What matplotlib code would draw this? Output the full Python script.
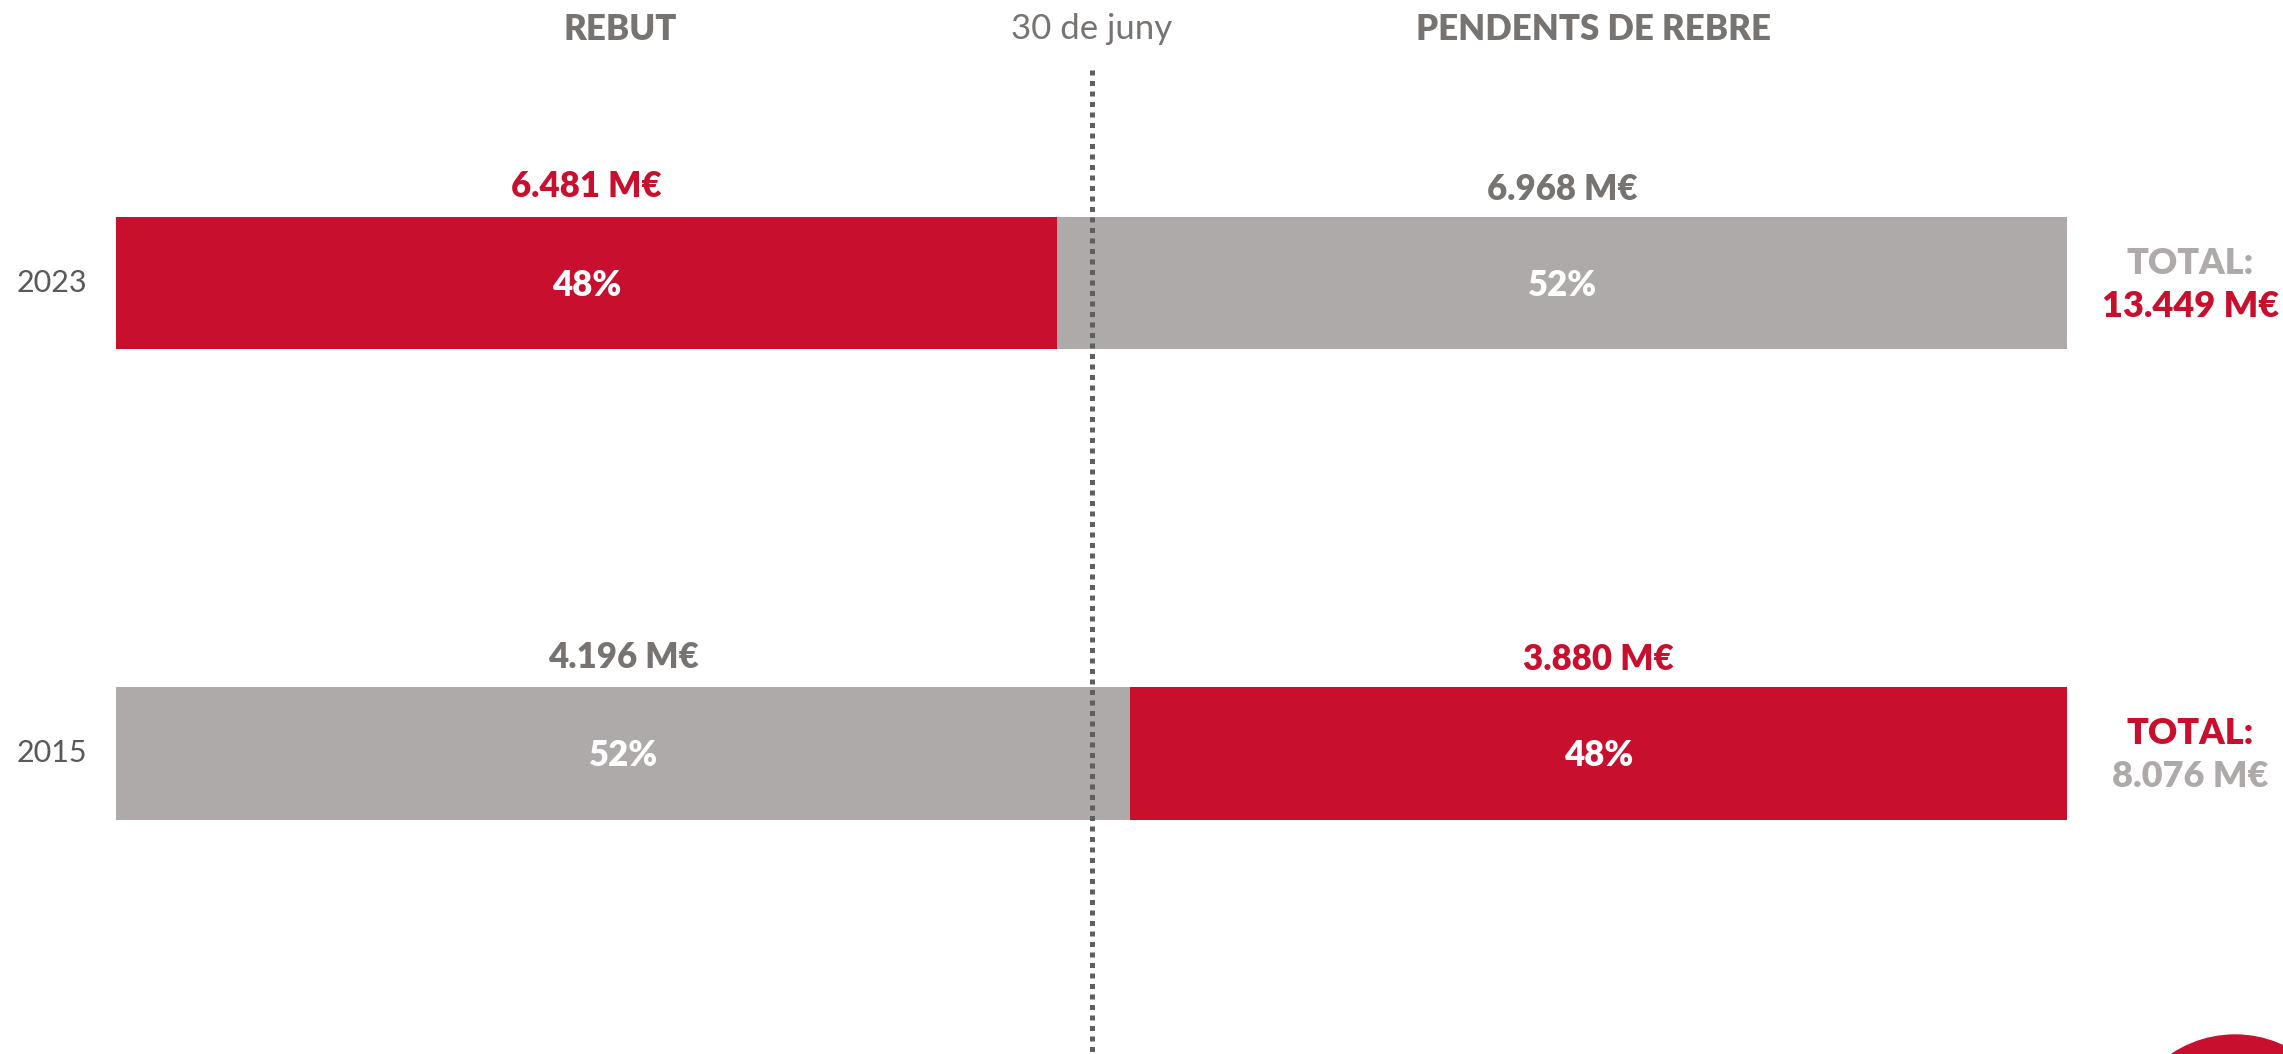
import matplotlib
matplotlib.use("Agg")
import matplotlib.pyplot as plt
from matplotlib.patches import Ellipse

# ========== DATA ==========
years = ["2023", "2015"]
rebut = [6481, 4196]          # M€ rebut a 30 de juny
pendent = [6968, 3880]        # M€ pendents de rebre
col_rebut = ["#C8102E", "#ADAAA9"]
col_pendent = ["#ADAAA9", "#C8102E"]
header_left = "REBUT"
header_mid = "30 de juny"
header_right = "PENDENTS DE REBRE"

RED = "#C8102E"
LGRAY = "#ADAAA9"
DGRAY = "#767371"
FONT = ["Lato", "DejaVu Sans"]


def fmt(v):
    return f"{v:,}".replace(",", ".") + " M€"


fig = plt.figure(figsize=(22.83, 10.54), dpi=100)
ax = fig.add_axes([0.051, 0.0, 0.8546, 1.0])
ax.set_xlim(0, 100)
ax.set_ylim(1.639, -0.602)
ax.axis("off")

ypos = list(range(len(years)))
totals = [r + p for r, p in zip(rebut, pendent)]
pct_r = [r / t * 100 for r, t in zip(rebut, totals)]
pct_p = [p / t * 100 for p, t in zip(pendent, totals)]

h = 0.282
ax.barh(ypos, pct_r, height=h, color=col_rebut, zorder=1)
ax.barh(ypos, pct_p, left=pct_r, height=h, color=col_pendent, zorder=1)

# línia 30 de juny
ax.plot([50, 50], [-0.454, 1.64], color="#5f5f5f", lw=3.6,
        linestyle=(0, (1, 1.1)), zorder=3, clip_on=False)

for i, y in enumerate(ypos):
    cr = pct_r[i] / 2
    cp = pct_r[i] + pct_p[i] / 2
    # percentatges
    ax.text(cr, y + 0.005, f"{pct_r[i]:.0f}%", ha="center", va="center",
            color="white", fontsize=25, fontweight="heavy", family=FONT, zorder=4)
    ax.text(cp, y + 0.005, f"{pct_p[i]:.0f}%", ha="center", va="center",
            color="white", fontsize=25, fontweight="heavy", family=FONT, zorder=4)
    # imports
    c_r = RED if col_rebut[i] == RED else DGRAY
    c_p = RED if col_pendent[i] == RED else DGRAY
    ax.text(cr, y - 0.205, fmt(rebut[i]), ha="center", va="center",
            color=c_r, fontsize=25, fontweight="heavy", family=FONT)
    ax.text(cp, y - 0.2, fmt(pendent[i]), ha="center", va="center",
            color=c_p, fontsize=25, fontweight="heavy", family=FONT)
    # any
    ax.text(-1.5, y, years[i], ha="right", va="center", color="#595959",
            fontsize=22, family=FONT)
    # total
    c_t = LGRAY if i == 0 else RED
    c_v = RED if i == 0 else LGRAY
    ax.text(106.3, y - 0.042, "TOTAL:", ha="center", va="center", color=c_t,
            fontsize=26, fontweight="heavy", family=FONT, clip_on=False)
    ax.text(106.3, y + 0.05, fmt(totals[i]), ha="center", va="center", color=c_v,
            fontsize=26, fontweight="heavy", family=FONT, clip_on=False)

# capçaleres
ax.text(25.8, -0.54, header_left, ha="center", va="center", color=DGRAY,
        fontsize=25, fontweight="heavy", family=FONT)
ax.text(50, -0.54, header_mid, ha="center", va="center", color=DGRAY,
        fontsize=25, family=FONT)
ax.text(75.7, -0.54, header_right, ha="center", va="center", color=DGRAY,
        fontsize=25, fontweight="heavy", family=FONT)

# cercle decoratiu (logo) a la cantonada
fig.patches.append(Ellipse((2235 / 2283, 1 - 1149 / 1054),
                           2 * 114 / 2283, 2 * 114 / 1054,
                           transform=fig.transFigure, color=RED, zorder=0))

fig.savefig("out.png", dpi=100)
